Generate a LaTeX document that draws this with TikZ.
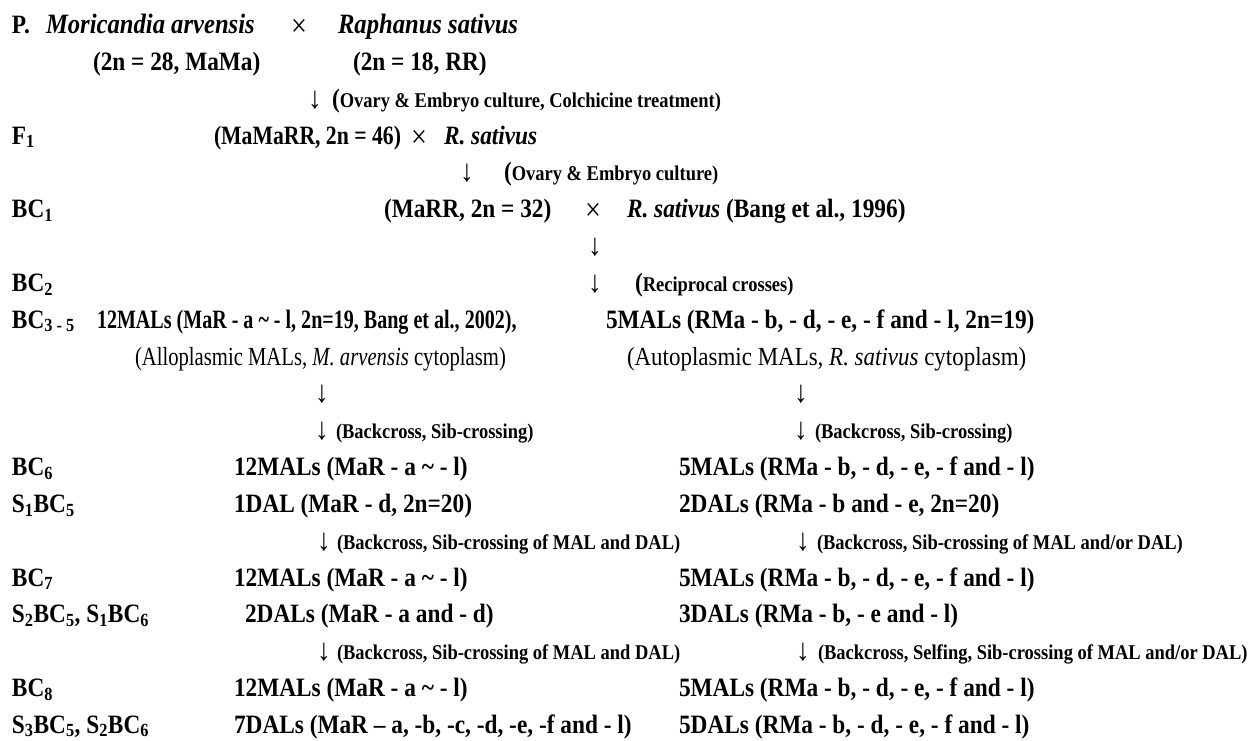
\documentclass[tikz,border=0pt]{standalone}
\usepackage{fontspec}
\setmainfont{Liberation Serif}[FakeStretch=0.88]
\newcommand{\mysub}[1]{\textsubscript{#1}}
\newcommand{\bigparen}{{\fontsize{26.5}{30}\selectfont(}}
\begin{document}
\begin{tikzpicture}[x=1pt,y=-1pt,
  txt/.style={inner sep=0pt, outer sep=0pt, anchor=base west},
  big/.style={txt, font=\fontsize{26.5}{30}\selectfont\bfseries},
  spec/.style={txt, font=\fontsize{28}{32}\selectfont\bfseries\itshape},
  regular/.style={txt, font=\fontsize{26.1}{30}\selectfont},
  note/.style={txt, font=\fontsize{21}{25}\selectfont\bfseries},
  arr/.style={inner sep=0pt, outer sep=0pt, anchor=base, font=\fontsize{31}{34}\selectfont},
  times/.style={inner sep=0pt, outer sep=0pt, anchor=base, font=\fontsize{32}{36}\selectfont},
]
\useasboundingbox (0,0) rectangle (1255,740);

% row 0
\node[big] (p) at (12,33.5) {P.};
\node[spec] (ma) at (46,33.5) {Moricandia arvensis};
\node[times] (x0) at (299,36.5) {×};
\node[spec] (rs) at (338,33.5) {Raphanus sativus};
% row 1
\node[big] (ma2) at (93,70.3) {(2n = 28, MaMa)};
\node[big] (rs2) at (353,70.3) {(2n = 18, RR)};
% row 2
\node[arr] (a1) at (315,108.2) {↓};
\node[note] (n1) at (332,107.2) {\bigparen Ovary \& Embryo culture, Colchicine treatment)};
% row 3
\node[big] (f1) at (12,144) {F\mysub{1}};
\node[big] (f1g) at (214,144) {\scalebox{0.93}[1]{(MaMaRR, 2n = 46)}};
\node[times] (x1) at (419,147) {×};
\node[big] (rs3) at (444,144) {\textit{R. sativus}};
% row 4
\node[arr] (a2) at (467,181.9) {↓};
\node[note] (n2) at (504,180.9) {\bigparen Ovary \& Embryo culture)};
% row 5
\node[big] (bc1) at (12,217.7) {BC\mysub{1}};
\node[big] (bc1g) at (384,217.7) {(MaRR, 2n = 32)};
\node[times] (x2) at (593,220.7) {×};
\node[big] (rs4) at (627,217.7) {\textit{R. sativus} (Bang et al., 1996)};
% row 6
\node[arr] (a3) at (595,255.5) {↓};
% row 7
\node[big] (bc2) at (12,291.4) {BC\mysub{2}};
\node[arr] (a4) at (595,292.4) {↓};
\node[note] (n4) at (635,291.4) {\bigparen Reciprocal crosses)};
% row 8
\node[big] (bc35) at (12,328.2) {BC\mysub{3 - 5}};
\node[big] (m12a) at (97,328.2) {\scalebox{0.86}[1]{12MALs (MaR - a \textasciitilde\ - l, 2n=19, Bang et al., 2002),}};
\node[big] (m5a) at (606,328.2) {5MALs (RMa - b, - d, - e, - f and - l, 2n=19)};
% row 9
\node[regular] (allo) at (135,365.1) {\scalebox{0.9}[1]{(Alloplasmic MALs, \textit{M. arvensis} cytoplasm)}};
\node[regular] (auto) at (627,365.1) {(Autoplasmic MALs, \textit{R. sativus} cytoplasm)};
% row 10
\node[arr] (a5) at (322,402.9) {↓};
\node[arr] (a6) at (801,402.9) {↓};
% row 11
\node[arr] (a7) at (322,439.7) {↓};
\node[note] (n7) at (336,438.7) {(Backcross, Sib-crossing)};
\node[arr] (a8) at (801,439.7) {↓};
\node[note] (n8) at (815,438.7) {(Backcross, Sib-crossing)};
% row 12
\node[big] (bc6) at (12,475.6) {BC\mysub{6}};
\node[big] (m12b) at (234,475.6) {12MALs (MaR - a \textasciitilde\ - l)};
\node[big] (m5b) at (679,475.6) {5MALs (RMa - b, - d, - e, - f and - l)};
% row 13
\node[big] (s1bc5) at (12,512.4) {S\mysub{1}BC\mysub{5}};
\node[big] (d1) at (234,512.4) {1DAL (MaR - d, 2n=20)};
\node[big] (d2) at (679,512.4) {2DALs (RMa - b and - e, 2n=20)};
% row 14
\node[arr] (a9) at (324,550.3) {↓};
\node[note] (n9) at (337,549.3) {(Backcross, Sib-crossing of MAL and DAL)};
\node[arr] (a10) at (803,550.3) {↓};
\node[note] (n10) at (817,549.3) {(Backcross, Sib-crossing of MAL and/or DAL)};
% row 15
\node[big] (bc7) at (12,586.1) {BC\mysub{7}};
\node[big] (m12c) at (234,586.1) {12MALs (MaR - a \textasciitilde\ - l)};
\node[big] (m5c) at (679,586.1) {5MALs (RMa - b, - d, - e, - f and - l)};
% row 16
\node[big] (s2bc5) at (12,622.9) {S\mysub{2}BC\mysub{5}, S\mysub{1}BC\mysub{6}};
\node[big] (d3) at (245,622.9) {2DALs (MaR - a and - d)};
\node[big] (d4) at (679,622.9) {3DALs (RMa - b, - e and - l)};
% row 17
\node[arr] (a11) at (324,660.8) {↓};
\node[note] (n11) at (337,659.8) {(Backcross, Sib-crossing of MAL and DAL)};
\node[arr] (a12) at (803,660.8) {↓};
\node[note] (n12) at (818,659.8) {(Backcross, Selfing, Sib-crossing of MAL and/or DAL)};
% row 18
\node[big] (bc8) at (12,696.6) {BC\mysub{8}};
\node[big] (m12d) at (234,696.6) {12MALs (MaR - a \textasciitilde\ - l)};
\node[big] (m5d) at (679,696.6) {5MALs (RMa - b, - d, - e, - f and - l)};
% row 19
\node[big] (s3bc5) at (12,733) {S\mysub{3}BC\mysub{5}, S\mysub{2}BC\mysub{6}};
\node[big] (d5) at (234,733) {7DALs (MaR -- a, -b, -c, -d, -e, -f and - l)};
\node[big] (d6) at (679,733) {5DALs (RMa - b, - d, - e, - f and - l)};
\end{tikzpicture}
\end{document}
